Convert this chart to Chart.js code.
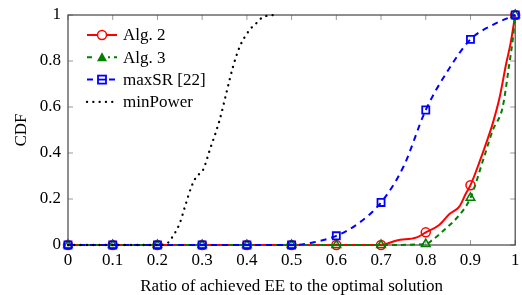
<!DOCTYPE html>
<html>
<head>
<meta charset="utf-8">
<script src="https://cdn.jsdelivr.net/npm/chart.js@4.4.1/dist/chart.umd.min.js"></script>
<style>
  html, body { margin: 0; padding: 0; background: #fff; }
  #wrap { width: 522px; height: 295px; }
</style>
</head>
<body>
<div id="wrap"><canvas id="cdf"></canvas></div>
<script>
// values
const xAlg2 = [0, 0.1, 0.2, 0.3, 0.4, 0.5, 0.6, 0.7, 0.735, 0.78, 0.8, 0.83, 0.853, 0.875, 0.89, 0.9, 0.92, 0.94, 0.95, 0.965, 0.98, 0.99, 1];
const yAlg2 = [0, 0, 0, 0, 0, 0, 0, 0, 0.02, 0.033, 0.055, 0.087, 0.135, 0.167, 0.225, 0.26, 0.36, 0.47, 0.53, 0.64, 0.79, 0.88, 1];

const xAlg3 = [0, 0.1, 0.2, 0.3, 0.4, 0.5, 0.6, 0.7, 0.8, 0.815, 0.845, 0.875, 0.9, 0.93, 0.95, 0.972, 0.987, 0.995, 1];
const yAlg3 = [0, 0, 0, 0, 0, 0, 0, 0, 0.004, 0.022, 0.072, 0.13, 0.205, 0.38, 0.5, 0.6, 0.79, 0.9, 1];

const xMaxSR = [0, 0.1, 0.2, 0.3, 0.4, 0.5, 0.55, 0.6, 0.65, 0.7, 0.75, 0.8, 0.85, 0.9, 0.95, 1];
const yMaxSR = [0, 0, 0, 0, 0, 0, 0.012, 0.04, 0.095, 0.185, 0.34, 0.587, 0.76, 0.894, 0.957, 1];

const xMinPower = [0, 0.1, 0.2, 0.22, 0.235, 0.25, 0.262, 0.276, 0.287, 0.302, 0.317, 0.339, 0.354, 0.369, 0.384, 0.406, 0.421, 0.435, 0.46];
const yMinPower = [0, 0, 0, 0.005, 0.04, 0.095, 0.17, 0.253, 0.297, 0.326, 0.413, 0.543, 0.66, 0.775, 0.862, 0.935, 0.964, 0.99, 1];

const seriesNames = ["Alg. 2", "Alg. 3", "maxSR [22]", "minPower"];
const xTicks = [0, 0.1, 0.2, 0.3, 0.4, 0.5, 0.6, 0.7, 0.8, 0.9, 1];
const yTicks = [0, 0.2, 0.4, 0.6, 0.8, 1];
const xTitle = "Ratio of achieved EE to the optimal solution";
const yTitle = "CDF";

const serif = "'Liberation Serif', 'DejaVu Serif', serif";

function pts(xs, ys) {
  return xs.map((x, i) => ({ x: x, y: ys[i] }));
}

// markers only on the 0.1 grid
function markRadius(r) {
  return (ctx) => {
    const x = ctx.raw ? ctx.raw.x : 0;
    return Math.abs(x * 10 - Math.round(x * 10)) < 1e-6 ? r : 0;
  };
}

const datasets = [
  {
    label: seriesNames[0],
    data: pts(xAlg2, yAlg2),
    borderColor: "#ff0000",
    borderWidth: 2,
    pointStyle: "circle",
    pointRadius: markRadius(4.5),
    pointBorderWidth: 1.5,
    pointBorderColor: "#ff0000",
    pointBackgroundColor: "rgba(0,0,0,0)",
    order: 4
  },
  {
    label: seriesNames[1],
    data: pts(xAlg3, yAlg3),
    borderColor: "#008000",
    borderWidth: 2,
    borderDash: [5, 4],
    pointStyle: "triangle",
    pointRadius: markRadius(5),
    pointBorderWidth: 1.5,
    pointBorderColor: "#008000",
    pointBackgroundColor: "rgba(0,0,0,0)",
    order: 3
  },
  {
    label: seriesNames[2],
    data: pts(xMaxSR, yMaxSR),
    borderColor: "#0000ff",
    borderWidth: 2,
    borderDash: [6, 5],
    pointStyle: "rect",
    pointRadius: markRadius(5),
    pointBorderWidth: 1.8,
    pointBorderColor: "#0000ff",
    pointBackgroundColor: "rgba(0,0,0,0)",
    order: 2
  },
  {
    label: seriesNames[3],
    data: pts(xMinPower, yMinPower),
    borderColor: "#000000",
    borderWidth: 2.3,
    borderDash: [0.1, 6.2],
    borderCapStyle: "round",
    pointRadius: 0,
    order: 1
  }
];
datasets.forEach(d => {
  d.fill = false;
  d.clip = false;
  d.cubicInterpolationMode = "monotone";
});

// box around the plot and inward ticks on all four sides
const framePlugin = {
  id: "frame",
  beforeDatasetsDraw(chart) {
    const { ctx, chartArea: a, scales } = chart;
    ctx.save();
    ctx.strokeStyle = "#999";
    ctx.lineWidth = 1;
    const len = 5;
    xTicks.forEach(v => {
      const px = scales.x.getPixelForValue(v);
      ctx.beginPath();
      ctx.moveTo(px, a.bottom); ctx.lineTo(px, a.bottom - len);
      ctx.moveTo(px, a.top); ctx.lineTo(px, a.top + len);
      ctx.stroke();
    });
    yTicks.forEach(v => {
      const py = scales.y.getPixelForValue(v);
      ctx.beginPath();
      ctx.moveTo(a.left, py); ctx.lineTo(a.left + len, py);
      ctx.moveTo(a.right, py); ctx.lineTo(a.right - len, py);
      ctx.stroke();
    });
    ctx.strokeStyle = "#444";
    ctx.lineWidth = 1.2;
    ctx.strokeRect(a.left, a.top, a.right - a.left, a.bottom - a.top);
    ctx.restore();
  }
};

// legend: line sample with marker, like the original
const legendPlugin = {
  id: "lineLegend",
  afterDraw(chart) {
    const { ctx, chartArea: a } = chart;
    ctx.save();
    ctx.font = "17px " + serif;
    ctx.textBaseline = "middle";
    const x0 = a.left + 19, x1 = a.left + 49;
    datasets.forEach((d, i) => {
      const y = a.top + 20 + i * 22.3;
      ctx.strokeStyle = d.borderColor;
      ctx.lineWidth = d.borderWidth;
      ctx.lineCap = d.borderCapStyle || "butt";
      ctx.setLineDash(d.borderDash || []);
      ctx.beginPath();
      ctx.moveTo(x0, y); ctx.lineTo(x1, y);
      ctx.stroke();
      ctx.setLineDash([]);
      ctx.lineCap = "butt";
      const cx = (x0 + x1) / 2;
      if (i === 0) {
        ctx.fillStyle = "#fff";
        ctx.beginPath(); ctx.arc(cx, y, 4.5, 0, Math.PI * 2); ctx.fill();
        ctx.strokeStyle = d.pointBorderColor;
        ctx.lineWidth = d.pointBorderWidth;
        ctx.stroke();
      } else if (i === 1) {
        ctx.fillStyle = "#fff";
        ctx.fillRect(cx - 6, y - 6, 12, 12);
        ctx.fillStyle = d.borderColor;
        ctx.beginPath();
        ctx.moveTo(cx, y - 5); ctx.lineTo(cx + 5, y + 4); ctx.lineTo(cx - 5, y + 4);
        ctx.closePath(); ctx.fill();
      } else if (i === 2) {
        ctx.fillStyle = "#fff";
        ctx.fillRect(cx - 6, y - 6, 12, 12);
        ctx.strokeStyle = d.pointBorderColor;
        ctx.lineWidth = d.pointBorderWidth;
        ctx.strokeRect(cx - 4, y - 4, 8, 8);
        ctx.beginPath();
        ctx.moveTo(cx - 4, y); ctx.lineTo(cx + 4, y);
        ctx.stroke();
      }
      ctx.fillStyle = "#000";
      ctx.fillText(d.label, x1 + 6, y + 1);
    });
    ctx.restore();
  }
};

new Chart(document.getElementById("cdf"), {
  type: "line",
  data: { datasets: datasets },
  options: {
    responsive: true,
    maintainAspectRatio: false,
    animation: false,
    events: [],
    layout: { padding: { top: 15, right: 6, left: 0, bottom: 0 } },
    plugins: {
      legend: { display: false },
      tooltip: { enabled: false }
    },
    scales: {
      x: {
        type: "linear",
        min: 0,
        max: 1,
        afterBuildTicks: (s) => { s.ticks = xTicks.map(v => ({ value: v })); },
        afterFit: (s) => { s.height = 50; s.paddingLeft = 0; s.paddingRight = 0; },
        grid: { display: false, drawTicks: false },
        border: { display: false },
        ticks: {
          color: "#000",
          padding: 5,
          maxRotation: 0,
          autoSkip: false,
          font: { family: serif, size: 17 },
          callback: (v) => String(v)
        },
        title: {
          display: true,
          text: xTitle,
          color: "#000",
          padding: { top: 6, bottom: -2 },
          font: { family: serif, size: 17 }
        }
      },
      y: {
        type: "linear",
        min: 0,
        max: 1,
        afterBuildTicks: (s) => { s.ticks = yTicks.map(v => ({ value: v })); },
        afterFit: (s) => { s.width = 68; s.paddingTop = 0; s.paddingBottom = 0; },
        grid: { display: false, drawTicks: false },
        border: { display: false },
        ticks: {
          color: "#000",
          padding: 7,
          autoSkip: false,
          font: { family: serif, size: 17 },
          callback: (v) => String(v)
        },
        title: {
          display: true,
          text: yTitle,
          color: "#000",
          padding: { top: 11, bottom: 0 },
          font: { family: serif, size: 17 }
        }
      }
    }
  },
  plugins: [framePlugin, legendPlugin]
});
</script>
</body>
</html>
